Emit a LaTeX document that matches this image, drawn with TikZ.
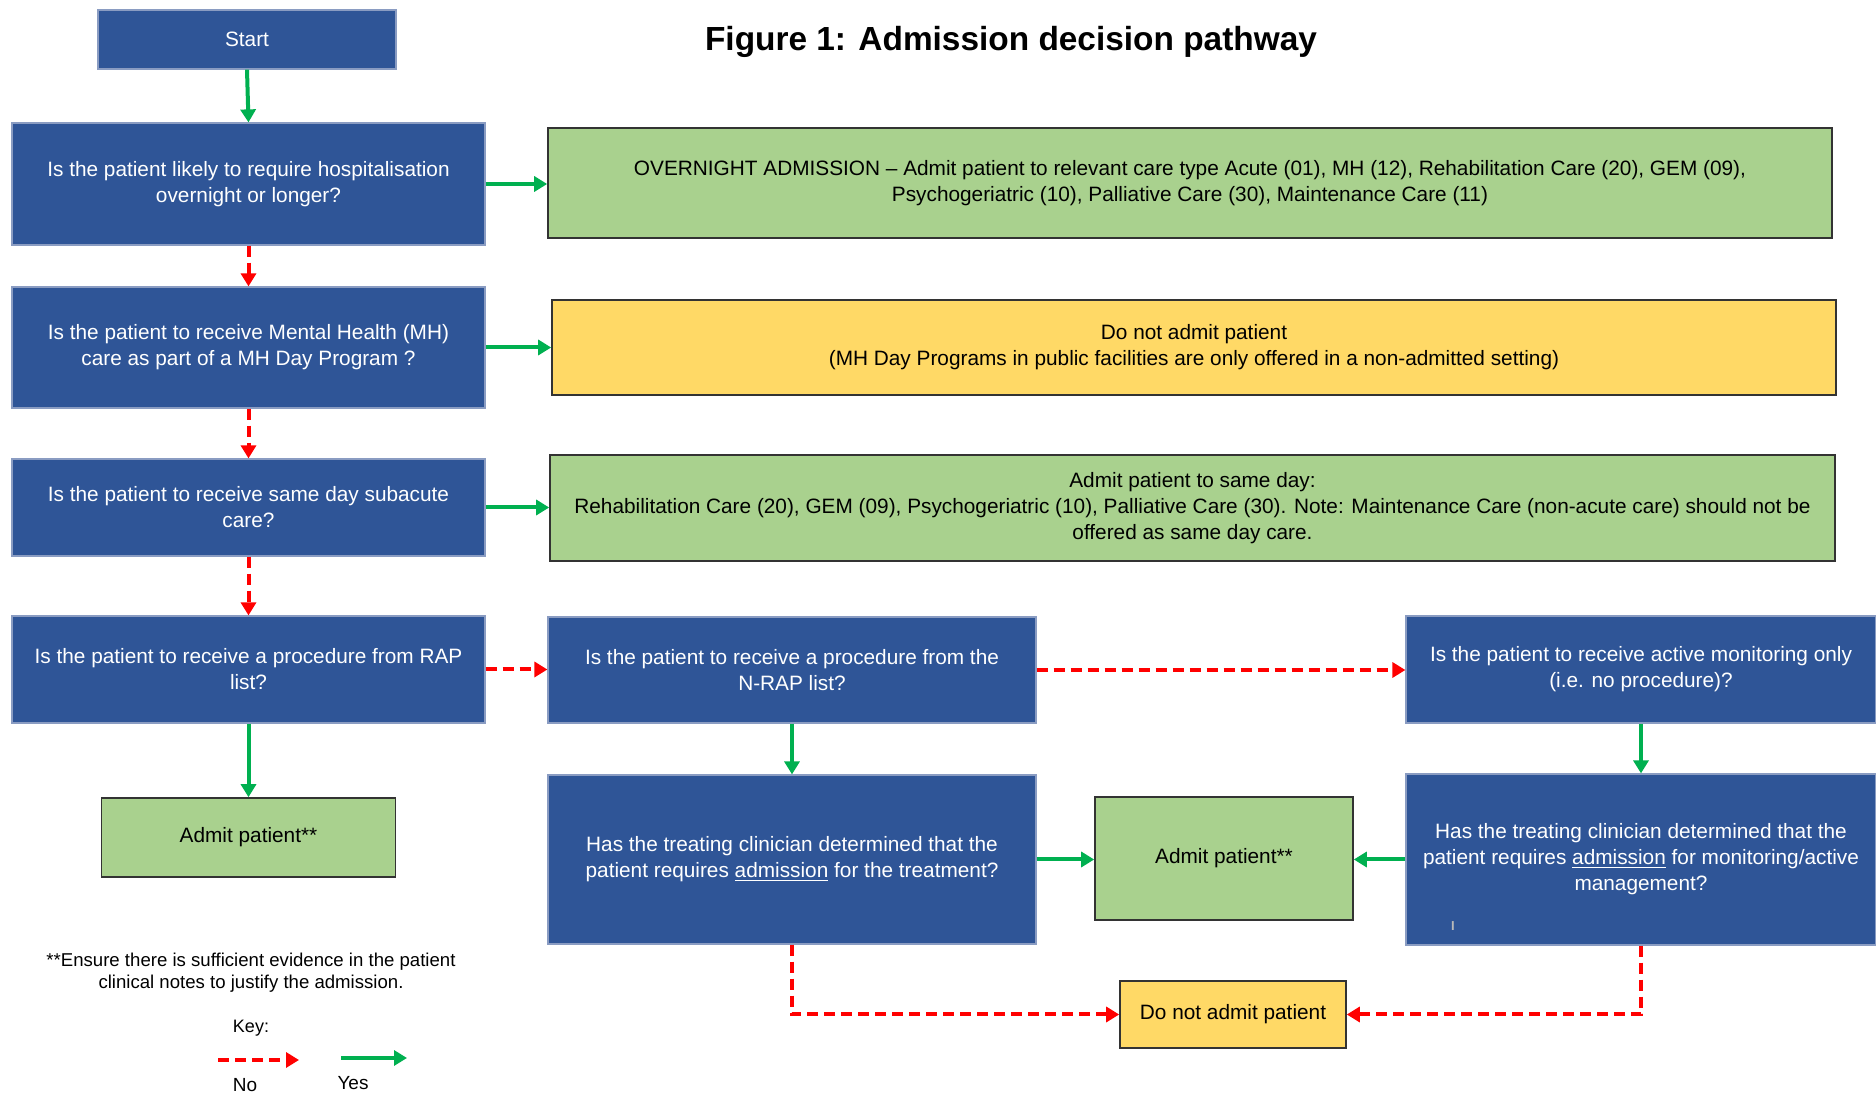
\documentclass[tikz,border=0pt]{standalone}
\usepackage{fontspec}
\setmainfont{Liberation Sans}
\usetikzlibrary{arrows.meta}
\definecolor{qblue}{HTML}{2F5597}
\definecolor{qborder}{HTML}{8A9CC2}
\definecolor{okgreen}{HTML}{A9D18E}
\definecolor{nogold}{HTML}{FFD966}
\definecolor{yesline}{HTML}{00B050}
\definecolor{noline}{HTML}{FF0000}
\tikzset{
 base/.style={inner sep=0pt, align=center, font=\fontsize{10.4}{13}\selectfont},
 qbox/.style={base, fill=qblue, draw=qborder, line width=0.6pt, text=white},
 gbox/.style={base, fill=okgreen, draw=black!80, line width=0.8pt},
 ybox/.style={base, fill=nogold, draw=black!80, line width=0.8pt},
 yesarrow/.style={draw=yesline, line width=2pt, -{Triangle[length=6.5pt,width=7.5pt]}},
 noarrow/.style={draw=noline, line width=2pt, dash pattern=on 5.5pt off 3pt, -{Triangle[length=6.5pt,width=7.5pt]}},
 smalltext/.style={inner sep=0pt, align=center, font=\fontsize{9.3}{11}\selectfont},
}
\begin{document}
\begin{tikzpicture}[x=0.5pt,y=-0.5pt]
\useasboundingbox[fill=white] (0,0) rectangle (1876,1095);

\node[font=\bfseries\fontsize{16.7}{20}\selectfont] (title) at (1011,42) {Figure 1: Admission decision pathway};

\node[qbox, minimum width=149pt, minimum height=29.5pt] (start) at (247,39.5) {Start};
\node[qbox, minimum width=236.5pt, minimum height=61pt] (q1) at (248.5,184) {Is the patient likely to require hospitalisation\\overnight or longer?};
\node[gbox, minimum width=642pt, minimum height=55pt] (over) at (1190,183) {OVERNIGHT ADMISSION -- Admit patient to relevant care type Acute (01), MH (12), Rehabilitation Care (20), GEM (09),\\Psychogeriatric (10), Palliative Care (30), Maintenance Care (11)};
\node[qbox, minimum width=236.5pt, minimum height=60.5pt] (q2) at (248.5,347.5) {Is the patient to receive Mental Health (MH)\\care as part of a MH Day Program ?};
\node[ybox, minimum width=642pt, minimum height=47.5pt] (dna1) at (1194,347.5) {Do not admit patient\\(MH Day Programs in public facilities are only offered in a non-admitted setting)};
\node[qbox, minimum width=236.5pt, minimum height=48.5pt] (q3) at (248.5,507.5) {Is the patient to receive same day subacute\\care?};
\node[gbox, minimum width=642.5pt, minimum height=53pt] (same) at (1192.5,508) {Admit patient to same day:\\Rehabilitation Care (20), GEM (09), Psychogeriatric (10), Palliative Care (30). Note: Maintenance Care (non-acute care) should not be\\offered as same day care.};
\node[qbox, minimum width=236.5pt, minimum height=53.5pt] (q4) at (248.5,669.5) {Is the patient to receive a procedure from RAP\\list?};
\node[gbox, minimum width=147pt, minimum height=39.5pt] (admit1) at (248.5,837.5) {Admit patient**};
\node[qbox, minimum width=244pt, minimum height=53pt] (q5) at (792,670) {Is the patient to receive a procedure from the\\N-RAP list?};
\node[qbox, minimum width=235pt, minimum height=53.5pt] (q6) at (1641,669.5) {Is the patient to receive active monitoring only\\(i.e. no procedure)?};
\node[qbox, minimum width=244pt, minimum height=84.5pt] (q7) at (792,859.5) {Has the treating clinician determined that the\\patient requires \underline{admission} for the treatment?};
\node[gbox, minimum width=129pt, minimum height=61.5pt] (admit2) at (1224,858.5) {Admit patient**};
\node[qbox, minimum width=235pt, minimum height=85.5pt] (q8) at (1641,859.5) {Has the treating clinician determined that the\\patient requires \underline{admission} for monitoring/active\\management?};
\node[ybox, minimum width=113pt, minimum height=33.5pt] (dna2) at (1233,1014.5) {Do not admit patient};
\node[inner sep=0pt, text=gray!55, font=\bfseries\fontsize{6.5}{7}\selectfont] (cursor) at (1453,926) {I};

% connectors
\draw[yesarrow] (start.south) -- (q1.north);
\draw[yesarrow] (q1.east) -- (q1.east -| over.west);
\draw[noarrow] (q1.south) -- (q2.north);
\draw[yesarrow] (q2.east) -- (q2.east -| dna1.west);
\draw[noarrow] (q2.south) -- (q3.north);
\draw[yesarrow] (q3.east) -- (q3.east -| same.west);
\draw[noarrow] (q3.south) -- (q4.north);
\draw[noarrow] (q4.east) -- (q4.east -| q5.west);
\draw[yesarrow] (q4.south) -- (admit1.north);
\draw[noarrow] (q5.east) -- (q5.east -| q6.west);
\draw[yesarrow] (q5.south) -- (q7.north);
\draw[yesarrow] (q6.south) -- (q8.north);
\draw[yesarrow] (q7.east) -- (q7.east -| admit2.west);
\draw[yesarrow] (q8.west) -- (q8.west -| admit2.east);
\draw[noarrow] (q7.south) |- (dna2.west);
\draw[noarrow] (q8.south) |- (dna2.east);

% footnote and key
\node[smalltext] (note) at (251,973) {**Ensure there is sufficient evidence in the patient\\clinical notes to justify the admission.};
\node[smalltext, font=\fontsize{9}{11}\selectfont] (key) at (251,1028) {Key:};
\coordinate (noa) at (218,1060);
\coordinate (nob) at (299,1060);
\coordinate (yesa) at (341,1058);
\coordinate (yesb) at (407,1058);
\draw[noarrow] (noa) -- (nob);
\draw[yesarrow] (yesa) -- (yesb);
\node[smalltext, font=\fontsize{9.5}{11}\selectfont] (nolab) at (245,1085) {No};
\node[smalltext, font=\fontsize{9.5}{11}\selectfont] (yeslab) at (353,1083) {Yes};
\end{tikzpicture}
\end{document}
